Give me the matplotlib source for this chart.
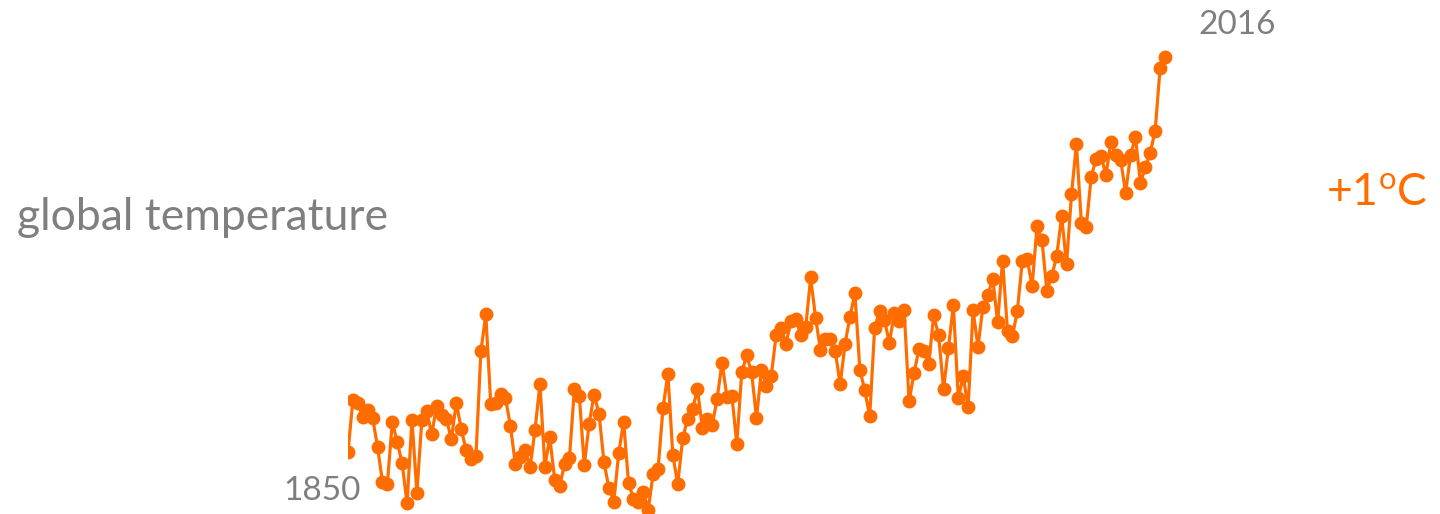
import numpy as np
import matplotlib.pyplot as plt

# annual global temperature anomaly (deg C), 1850-2016
years = np.arange(1850, 2017)
anomaly = [
    -0.373, -0.218, -0.228, -0.269, -0.248, -0.272, -0.358, -0.461, -0.467, -0.284,  # 1850s
    -0.343, -0.407, -0.524, -0.278, -0.494, -0.279, -0.251, -0.321, -0.238, -0.262,  # 1860s
    -0.276, -0.335, -0.227, -0.304, -0.368, -0.395, -0.384, -0.075, 0.035, -0.230,   # 1870s
    -0.227, -0.200, -0.213, -0.296, -0.409, -0.389, -0.367, -0.418, -0.307, -0.171,  # 1880s
    -0.416, -0.330, -0.455, -0.473, -0.410, -0.390, -0.186, -0.206, -0.412, -0.289,  # 1890s
    -0.203, -0.259, -0.402, -0.479, -0.520, -0.377, -0.283, -0.465, -0.511, -0.522,  # 1900s
    -0.490, -0.544, -0.437, -0.424, -0.244, -0.141, -0.383, -0.468, -0.333, -0.275,  # 1910s
    -0.247, -0.187, -0.302, -0.276, -0.294, -0.215, -0.108, -0.210, -0.206, -0.350,  # 1920s
    -0.137, -0.087, -0.137, -0.273, -0.131, -0.178, -0.147, -0.026, -0.006, -0.052,  # 1930s
    0.014, 0.020, -0.027, -0.004, 0.144, 0.025, -0.071, -0.038, -0.039, -0.074,      # 1940s
    -0.173, -0.052, 0.028, 0.097, -0.129, -0.190, -0.267, -0.007, 0.046, 0.017,      # 1950s
    -0.049, 0.038, 0.014, 0.048, -0.223, -0.140, -0.068, -0.074, -0.113, 0.032,      # 1960s
    -0.027, -0.186, -0.065, 0.062, -0.214, -0.149, -0.241, 0.047, -0.062, 0.057,     # 1970s
    0.092, 0.140, 0.011, 0.194, -0.014, -0.030, 0.045, 0.192, 0.198, 0.118,          # 1980s
    0.296, 0.254, 0.105, 0.148, 0.208, 0.325, 0.183, 0.390, 0.539, 0.306,            # 1990s
    0.294, 0.441, 0.496, 0.505, 0.447, 0.545, 0.506, 0.491, 0.395, 0.506,            # 2000s
    0.560, 0.425, 0.470, 0.514, 0.579, 0.763, 0.797,                                 # 2010s
]

orange = '#FF6D00'
grey = '#7F7F7F'

plt.rcParams['font.family'] = ['Lato', 'DejaVu Sans']
plt.rcParams['mathtext.fontset'] = 'custom'
plt.rcParams['mathtext.rm'] = 'Lato'

W, H = 1440, 514
fig = plt.figure(figsize=(W / 100, H / 100), dpi=100)

# axes starts right at 1850 so the first dot gets cut in half
ax = fig.add_axes([348 / W, 0, (1210 - 348) / W, 1])
ax.plot(years, anomaly, color=orange, lw=2.3, marker='o', ms=9, mec=orange, mfc=orange)
px_per_year = (1165 - 348) / 166
ax.set_xlim(1850, 1850 + (1210 - 348) / px_per_year)
px_per_deg = (452 - 57) / (0.797 + 0.373)
ax.set_ylim(-0.373 - (514 - 452) / px_per_deg, 0.797 + 57 / px_per_deg)
ax.axis('off')

fig.text(17 / W, 1 - 217 / H, 'global temperature', color=grey, fontsize=32,
         ha='left', va='center')
fig.text(1428 / W, 1 - 193 / H, '+1$^{\\mathrm{o}}$C', color=orange, fontsize=32,
         ha='right', va='center')
fig.text(1237 / W, 1 - 25 / H, '2016', color=grey, fontsize=24, ha='center', va='center')
fig.text(322 / W, 1 - 491 / H, '1850', color=grey, fontsize=24, ha='center', va='center')

plt.savefig('out.png', dpi=100)
